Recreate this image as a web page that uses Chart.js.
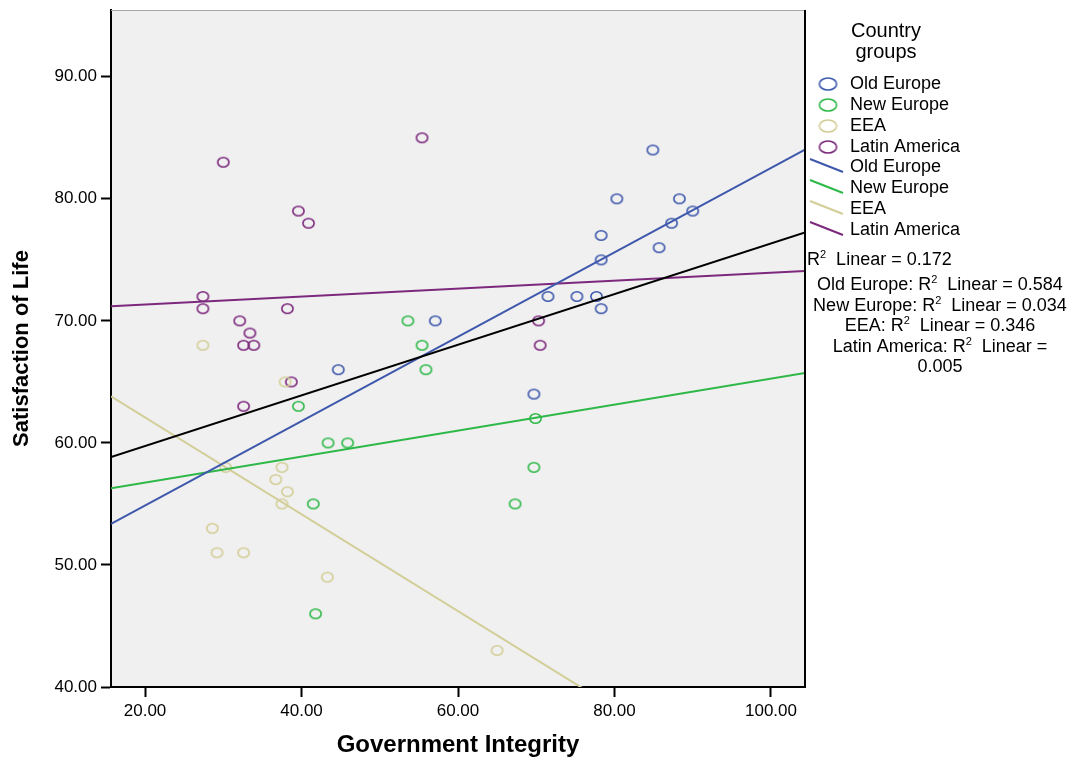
<!DOCTYPE html>
<html>
<head>
<meta charset="utf-8">
<title>Government Integrity vs Satisfaction of Life</title>
<script src="https://cdn.jsdelivr.net/npm/chart.js@4.4.1/dist/chart.umd.min.js"></script>
<style>
  html, body { margin: 0; padding: 0; background: #ffffff; }
  #wrap { width: 1078px; height: 762px; }
</style>
</head>
<body>
<div id="wrap"><canvas id="chart" width="1078" height="762"></canvas></div>
<script>
// Country groups and their colours
const groupNames  = ['Old Europe', 'New Europe', 'EEA', 'Latin America'];
const groupColors = ['#3E58AC', '#2EB848', '#D3CE97', '#7C287D'];

// Government Integrity (x) and Satisfaction of Life (y), one pair of arrays per group
const oldEuropeGI = [57.1, 84.9, 80.3, 88.3, 90.0, 87.3, 78.3, 85.7, 78.3, 71.5, 75.2, 77.7, 78.3, 44.7, 69.7];
const oldEuropeSL = [70, 84, 80, 80, 79, 78, 77, 76, 75, 72, 72, 72, 71, 66, 64];

const newEuropeGI = [53.6, 55.4, 55.9, 39.6, 43.4, 45.9, 41.5, 41.8, 69.9, 69.7, 67.3];
const newEuropeSL = [70, 68, 66, 63, 60, 60, 55, 46, 62, 58, 55];

const eeaGI = [27.4, 37.9, 30.3, 37.5, 36.7, 38.2, 37.5, 28.6, 29.2, 32.6, 43.3, 65.0];
const eeaSL = [68, 65, 58, 58, 57, 56, 55, 53, 51, 51, 49, 43];

const latinGI = [30.0, 55.4, 39.6, 40.9, 27.4, 27.4, 38.2, 32.1, 33.4, 32.6, 33.9, 38.7, 32.6, 70.3, 70.5];
const latinSL = [83, 85, 79, 78, 72, 71, 71, 70, 69, 68, 68, 65, 63, 70, 68];

// Axis ranges and tick values
const xAxisMin = 15.65, xAxisMax = 104.35;
const yAxisMin = 40,    yAxisMax = 95.47;
const xTickValues = [20, 40, 60, 80, 100];
const yTickValues = [40, 50, 60, 70, 80, 90];

// R-squared values of the linear fits
const r2Total  = '0.172';
const r2Groups = ['0.584', '0.034', '0.346', '0.005'];

const groupGI = [oldEuropeGI, newEuropeGI, eeaGI, latinGI];
const groupSL = [oldEuropeSL, newEuropeSL, eeaSL, latinSL];

const FONT = "'Liberation Sans', Arial, Helvetica, sans-serif";
Chart.defaults.font.family = FONT;
Chart.defaults.color = '#000';

// Ordinary least-squares line across the full x range
function linearFit(xs, ys) {
  const n = xs.length;
  const mx = xs.reduce((a, b) => a + b, 0) / n;
  const my = ys.reduce((a, b) => a + b, 0) / n;
  let sxy = 0, sxx = 0;
  for (let i = 0; i < n; i++) {
    sxy += (xs[i] - mx) * (ys[i] - my);
    sxx += (xs[i] - mx) * (xs[i] - mx);
  }
  const slope = sxy / sxx;
  const icpt = my - slope * mx;
  return [
    { x: xAxisMin, y: icpt + slope * xAxisMin },
    { x: xAxisMax, y: icpt + slope * xAxisMax }
  ];
}

// Hollow elliptical marker
function ring(color, rx, ry, lw) {
  const c = document.createElement('canvas');
  c.width = Math.ceil(2 * rx + lw + 2);
  c.height = Math.ceil(2 * ry + lw + 2);
  const g = c.getContext('2d');
  g.strokeStyle = color;
  g.lineWidth = lw;
  g.beginPath();
  g.ellipse(c.width / 2, c.height / 2, rx, ry, 0, 0, Math.PI * 2);
  g.stroke();
  return c;
}
const pointRings  = groupColors.map(c => ring(c, 5.6, 4.7, 1.6));
const legendRings = groupColors.map(c => ring(c, 8.6, 6.0, 1.6));

const toPoints = (xs, ys) => xs.map((x, i) => ({ x, y: ys[i] }));

const allGI = [].concat(...groupGI);
const allSL = [].concat(...groupSL);

const datasets = [];
// overall fit
datasets.push({
  label: 'Total', data: linearFit(allGI, allSL), showLine: true,
  borderColor: '#000000', borderWidth: 2, pointRadius: 0, order: 0, clip: 0
});
// group fits
groupNames.forEach((name, i) => {
  datasets.push({
    label: name + ' fit', data: linearFit(groupGI[i], groupSL[i]), showLine: true,
    borderColor: groupColors[i], borderWidth: 2, pointRadius: 0, order: 0, clip: 0
  });
});
// group scatter points
groupNames.forEach((name, i) => {
  datasets.push({
    label: name, data: toPoints(groupGI[i], groupSL[i]), showLine: false,
    pointStyle: pointRings[i], borderColor: groupColors[i], order: 1
  });
});

// draws "R" + superscript 2 + remainder
function drawR2(ctx, before, after, x, y, align, big, small) {
  ctx.font = big;
  const w1 = ctx.measureText(before + 'R').width;
  const w3 = ctx.measureText(after).width;
  ctx.font = small;
  const w2 = ctx.measureText('2').width;
  const total = w1 + w2 + w3;
  let sx = align === 'center' ? x - total / 2 : x;
  ctx.textAlign = 'left';
  ctx.font = big;
  ctx.fillText(before + 'R', sx, y);
  ctx.font = small;
  ctx.fillText('2', sx + w1, y - 5);
  ctx.font = big;
  ctx.fillText(after, sx + w1 + w2, y);
}

const framePlugin = {
  id: 'frameAndKey',
  beforeDraw(chart) {
    const { ctx, chartArea: a } = chart;
    ctx.save();
    ctx.fillStyle = '#F0F0F0';
    ctx.fillRect(a.left, a.top, a.right - a.left, a.bottom - a.top);
    ctx.restore();
  },
  afterDraw(chart) {
    const { ctx, chartArea: a } = chart;
    ctx.save();
    // top and right frame edges
    ctx.strokeStyle = '#A8A8A8';
    ctx.lineWidth = 1;
    ctx.beginPath();
    ctx.moveTo(a.left, a.top + 0.5);
    ctx.lineTo(a.right, a.top + 0.5);
    ctx.stroke();
    ctx.strokeStyle = '#000';
    ctx.lineWidth = 2;
    ctx.beginPath();
    ctx.moveTo(a.right, a.top);
    ctx.lineTo(a.right, a.bottom);
    ctx.stroke();

    // key
    const L = a.right;
    ctx.fillStyle = '#000';
    ctx.textBaseline = 'middle';
    ctx.textAlign = 'center';
    ctx.font = '20px ' + FONT;
    ctx.fillText('Country', L + 81, 31);
    ctx.fillText('groups', L + 81, 52);

    const itemFont = '18px ' + FONT;
    ctx.font = itemFont;
    ctx.textAlign = 'left';
    groupNames.forEach((name, i) => {
      const y = 84 + i * 21;
      const img = legendRings[i];
      ctx.drawImage(img, L + 23 - img.width / 2, y - img.height / 2);
      ctx.fillText(name, L + 45, y);
    });
    groupNames.forEach((name, i) => {
      const y = 167 + i * 21;
      ctx.strokeStyle = groupColors[i];
      ctx.lineWidth = 2;
      ctx.beginPath();
      ctx.moveTo(L + 5, y - 8);
      ctx.lineTo(L + 38, y + 5);
      ctx.stroke();
      ctx.fillStyle = '#000';
      ctx.font = itemFont;
      ctx.fillText(name, L + 45, y);
    });

    const small = '11px ' + FONT;
    drawR2(ctx, '', '  Linear = ' + r2Total, L + 2, 260, 'left', itemFont, small);
    let y = 285;
    const cx = L + 135;
    groupNames.forEach((name, i) => {
      if (i === groupNames.length - 1) {
        drawR2(ctx, name + ': ', '  Linear =', cx, y, 'center', itemFont, small);
        y += 20.6;
        ctx.font = itemFont;
        ctx.textAlign = 'center';
        ctx.fillText(r2Groups[i], cx, y);
      } else {
        drawR2(ctx, name + ': ', '  Linear = ' + r2Groups[i], cx, y, 'center', itemFont, small);
      }
      y += 20.6;
    });
    ctx.restore();
  }
};

new Chart(document.getElementById('chart'), {
  type: 'scatter',
  data: { datasets },
  options: {
    responsive: false,
    animation: false,
    events: [],
    layout: { padding: { left: 0, top: 10, right: 273, bottom: 0 } },
    plugins: { legend: { display: false }, tooltip: { enabled: false } },
    scales: {
      x: {
        type: 'linear', min: xAxisMin, max: xAxisMax,
        afterFit(scale) { scale.height = 75; scale.paddingLeft = 0; scale.paddingRight = 0; },
        afterBuildTicks(scale) { scale.ticks = xTickValues.map(v => ({ value: v })); },
        ticks: { font: { size: 17 }, padding: 4, maxRotation: 0, callback: v => Number(v).toFixed(2) },
        grid: { drawOnChartArea: false, drawTicks: true, tickLength: 10, tickColor: '#000', tickWidth: 2 },
        border: { display: true, color: '#000', width: 2 },
        title: {
          display: true, text: 'Government Integrity',
          font: { size: 24, weight: 'bold', lineHeight: 1 },
          padding: { top: 0, bottom: 5 }
        }
      },
      y: {
        type: 'linear', min: yAxisMin, max: yAxisMax,
        afterFit(scale) { scale.width = 111; scale.paddingTop = 0; scale.paddingBottom = 0; },
        afterBuildTicks(scale) { scale.ticks = yTickValues.map(v => ({ value: v })); },
        ticks: { font: { size: 17 }, padding: 4, callback: v => Number(v).toFixed(2) },
        grid: { drawOnChartArea: false, drawTicks: true, tickLength: 10, tickColor: '#000', tickWidth: 2 },
        border: { display: true, color: '#000', width: 2 },
        title: {
          display: true, text: 'Satisfaction of Life',
          font: { size: 22, weight: 'bold', lineHeight: 1 },
          padding: { top: 11, bottom: 0 }
        }
      }
    }
  },
  plugins: [framePlugin]
});
</script>
</body>
</html>
